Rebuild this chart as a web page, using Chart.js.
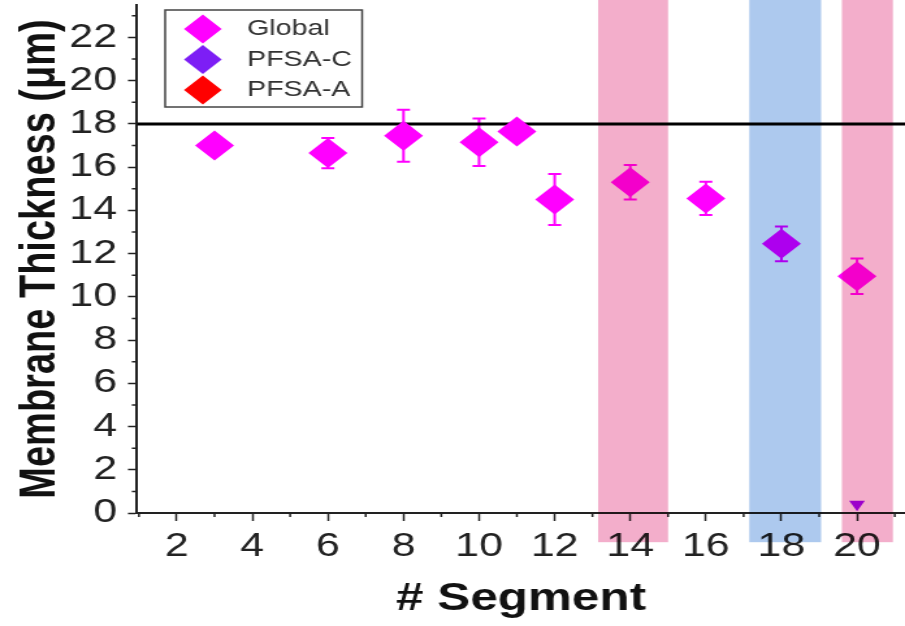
<!DOCTYPE html>
<html>
<head>
<meta charset="utf-8">
<script src="https://cdn.jsdelivr.net/npm/chart.js@4.4.1/dist/chart.umd.min.js"></script>
<style>
  html, body { margin: 0; padding: 0; background: #fff; overflow: hidden; }
  #stage { width: 905px; height: 626px; overflow: hidden; position: relative; background: #fff; }
  #wrap { position: absolute; left: 0; top: 0; width: 696px; height: 626px;
          transform: scaleX(1.30029); transform-origin: 0 0; }
</style>
</head>
<body>
<div id="stage"><div id="wrap"><canvas id="c" width="696" height="626"></canvas></div></div>
<script>
// ---------------- data ----------------
const segments        = [3, 6, 8, 10, 11, 12, 14, 16, 18, 20];
const globalThickness = [17.0, 16.65, 17.45, 17.15, 17.65, 14.5, 15.3, 14.55, 12.45, 10.95];
const globalError     = [0.4, 0.7, 1.2, 1.1, 0.4, 1.18, 0.8, 0.77, 0.8, 0.82];
const pfsaCSegments   = [20];
const pfsaCThickness  = [0.4];
const pfsaASegments   = [];
const pfsaAThickness  = [];
const referenceThickness = 18;
const xTickValues = [2, 4, 6, 8, 10, 12, 14, 16, 18, 20];
const yTickValues = [0, 2, 4, 6, 8, 10, 12, 14, 16, 18, 20, 22];
const bandStart = [13.15, 17.15, 19.6];
const bandEnd   = [15.0, 19.05, 20.95];
const bandKind  = ['pink', 'blue', 'pink'];

const X_MIN = 0.95, X_MAX = 21.27, Y_MIN = 0, Y_MAX = 23.5;
const FONT = "'Liberation Sans', Arial, sans-serif";

const toPoints = (xs, ys) => xs.map((x, i) => ({ x: x, y: ys[i] }));

// ---------------- plugins ----------------
const whiteBg = {
  id: 'whiteBg',
  beforeDraw(chart) {
    const ctx = chart.ctx;
    ctx.save(); ctx.fillStyle = '#ffffff';
    ctx.fillRect(0, 0, chart.width, chart.height); ctx.restore();
  }
};

const errorBars = {
  id: 'errorBars',
  beforeDatasetsDraw(chart) {
    const ctx = chart.ctx, xs = chart.scales.x, ys = chart.scales.y;
    chart.data.datasets.forEach(ds => {
      if (!ds.errors) return;
      ctx.save();
      ctx.strokeStyle = ds.errorColor; ctx.lineWidth = 2;
      ds.data.forEach((p, i) => {
        const e = ds.errors[i];
        if (!e) return;
        const px = xs.getPixelForValue(p.x);
        const t = ys.getPixelForValue(p.y + e), b = ys.getPixelForValue(p.y - e);
        ctx.beginPath();
        ctx.moveTo(px, t); ctx.lineTo(px, b);
        ctx.moveTo(px - 5, t); ctx.lineTo(px + 5, t);
        ctx.moveTo(px - 5, b); ctx.lineTo(px + 5, b);
        ctx.stroke();
      });
      ctx.restore();
    });
  }
};

const minorTicks = {
  id: 'minorTicks',
  afterDraw(chart) {
    const ctx = chart.ctx, xs = chart.scales.x, ys = chart.scales.y, a = chart.chartArea;
    ctx.save(); ctx.strokeStyle = '#222'; ctx.lineWidth = 1.5;
    ctx.beginPath();
    for (let v = Math.ceil(X_MIN); v <= X_MAX; v++) {
      if (v % 2 === 0) continue;
      const px = xs.getPixelForValue(v);
      ctx.moveTo(px, a.bottom); ctx.lineTo(px, a.bottom + 4);
    }
    for (let v = Math.ceil(Y_MIN); v <= Y_MAX; v++) {
      if (v % 2 === 0) continue;
      const py = ys.getPixelForValue(v);
      ctx.moveTo(a.left, py); ctx.lineTo(a.left - 4, py);
    }
    ctx.stroke(); ctx.restore();
  }
};

const bands = {
  id: 'bands',
  afterDraw(chart, args, opts) {
    const ctx = chart.ctx, xs = chart.scales.x, ys = chart.scales.y;
    ctx.save();
    ctx.globalCompositeOperation = 'multiply';
    bandStart.forEach((s, i) => {
      const x0 = xs.getPixelForValue(s), x1 = xs.getPixelForValue(bandEnd[i]);
      const y0 = ys.getPixelForValue(opts.top), y1 = ys.getPixelForValue(opts.bottom);
      ctx.fillStyle = opts.colors[bandKind[i]];
      ctx.fillRect(x0, y0, x1 - x0, y1 - y0);
    });
    ctx.restore();
  }
};

const legendBox = {
  id: 'legendBox',
  afterDraw(chart, args, o) {
    const ctx = chart.ctx;
    const items = chart.data.datasets.filter(d => d.inLegend);
    ctx.save();
    ctx.fillStyle = '#ffffff';
    ctx.fillRect(o.left, o.top, o.width, o.height);
    ctx.strokeStyle = o.borderColor; ctx.lineWidth = o.borderWidth;
    ctx.strokeRect(o.left, o.top, o.width, o.height);
    items.forEach((d, i) => {
      const y = o.firstRowY + i * o.rowGap;
      ctx.fillStyle = d.backgroundColor;
      Chart.helpers.drawPoint(ctx, { pointStyle: 'rectRot', radius: o.markerRadius, rotation: 0, borderWidth: 0 }, o.markerX, y);
      ctx.fillStyle = o.textColor;
      ctx.font = o.fontSize + 'px ' + FONT;
      ctx.textAlign = 'left'; ctx.textBaseline = 'middle';
      ctx.fillText(d.label, o.textX, y);
    });
    ctx.restore();
  }
};

// ---------------- chart ----------------
new Chart(document.getElementById('c'), {
  type: 'scatter',
  data: {
    datasets: [
      {
        label: 'Global', inLegend: true,
        data: toPoints(segments, globalThickness),
        errors: globalError, errorColor: '#ff00ff',
        backgroundColor: '#ff00ff', pointBackgroundColor: '#ff00ff',
        pointStyle: 'rectRot', pointRadius: 15, pointBorderWidth: 0, borderWidth: 0
      },
      {
        label: 'PFSA-C', inLegend: true,
        data: toPoints(pfsaCSegments, pfsaCThickness),
        backgroundColor: '#7d1ef5', pointBackgroundColor: '#a400ff',
        pointStyle: 'triangle', pointRotation: 180, pointRadius: 7, pointBorderWidth: 0, borderWidth: 0
      },
      {
        label: 'PFSA-A', inLegend: true,
        data: toPoints(pfsaASegments, pfsaAThickness),
        backgroundColor: '#ff0000', pointBackgroundColor: '#ff0000',
        pointStyle: 'rectRot', pointRadius: 15, pointBorderWidth: 0, borderWidth: 0
      },
      {
        label: 'reference', inLegend: false, type: 'line', showLine: true,
        data: [{ x: X_MIN, y: referenceThickness }, { x: X_MAX, y: referenceThickness }],
        borderColor: '#000000', borderWidth: 3, pointRadius: 0, fill: false
      }
    ]
  },
  options: {
    responsive: false, animation: false, events: [],
    devicePixelRatio: 1,
    layout: { autoPadding: false, padding: { top: 5, left: 0, right: 0, bottom: 0 } },
    plugins: {
      legend: { display: false },
      tooltip: { enabled: false },
      bands: {
        top: 25, bottom: -1.35,
        colors: { pink: '#f3aecb', blue: '#adc9ee' }
      },
      legendBox: {
        left: 127, top: 10, width: 151.5, height: 97,
        borderColor: '#444', borderWidth: 1.5,
        markerX: 156, markerRadius: 14.5, firstRowY: 29, rowGap: 30.5,
        textX: 190, fontSize: 22, textColor: '#333'
      }
    },
    scales: {
      x: {
        type: 'linear', min: X_MIN, max: X_MAX,
        afterBuildTicks: s => { s.ticks = xTickValues.map(v => ({ value: v })); },
        afterFit: s => { s.height = 113; s.paddingLeft = 0; s.paddingRight = 0; },
        ticks: { font: { family: FONT, size: 33 }, color: '#222', padding: 6, maxRotation: 0, autoSkip: false },
        grid: { drawOnChartArea: false, drawTicks: true, tickLength: 8, tickColor: '#222', tickWidth: 1.5 },
        border: { display: true, color: '#222', width: 2 },
        title: { display: true, text: '# Segment', color: '#111',
                 font: { family: FONT, size: 38, weight: 'bold', lineHeight: 1 },
                 padding: { top: 0, bottom: 7 } }
      },
      y: {
        type: 'linear', min: Y_MIN, max: Y_MAX,
        afterBuildTicks: s => { s.ticks = yTickValues.map(v => ({ value: v })); },
        afterFit: s => { s.width = 105.4; s.paddingTop = 0; s.paddingBottom = 0; },
        ticks: { font: { family: FONT, size: 33 }, color: '#222', padding: 8.4, autoSkip: false },
        grid: { drawOnChartArea: false, drawTicks: true, tickLength: 7, tickColor: '#222', tickWidth: 1.5 },
        border: { display: true, color: '#222', width: 2 },
        title: { display: true, text: 'Membrane Thickness (μm)', color: '#111',
                 font: { family: FONT, size: 38, weight: 'bold', lineHeight: 1 },
                 padding: { top: 13, bottom: 0 } }
      }
    }
  },
  plugins: [whiteBg, errorBars, minorTicks, bands, legendBox]
});
</script>
</body>
</html>
